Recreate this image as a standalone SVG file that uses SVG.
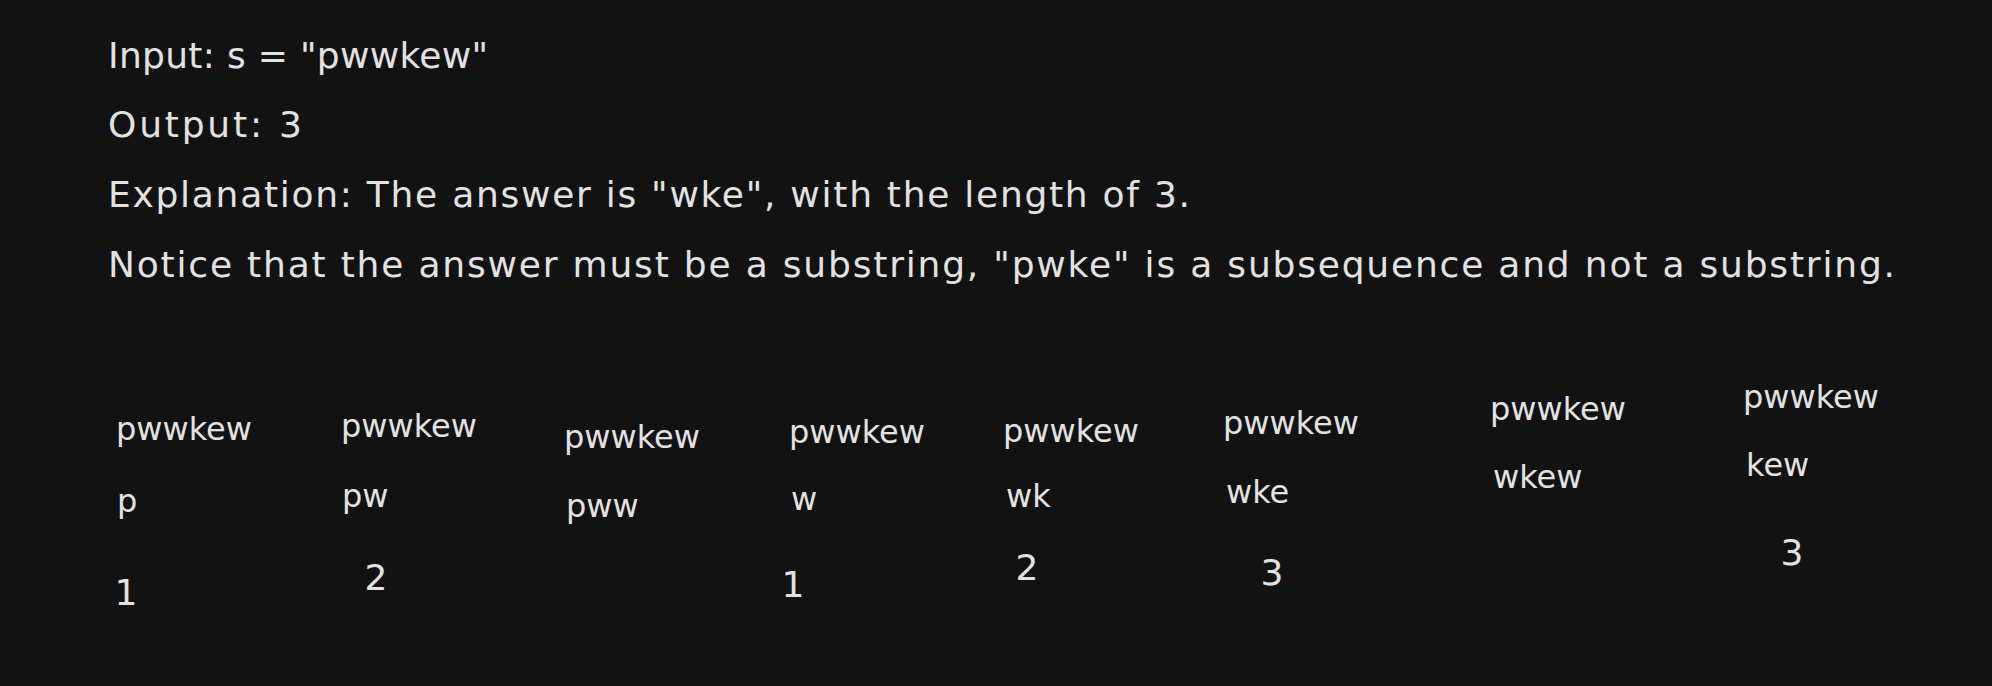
<svg xmlns="http://www.w3.org/2000/svg" width="1992" height="686" viewBox="0 0 1992 686">
<style>
  text { font-family: "DejaVu Sans", "Liberation Sans", sans-serif; fill: #e2e2e2; font-size: 32px; }
  .head { font-size: 36px; }
  .num { text-anchor: middle; font-size: 36px; }
</style>
<rect x="0" y="0" width="1992" height="686" fill="#121212"/>
<g id="problem">
  <text class="head" x="108" y="68" textLength="380">Input: s = "pwwkew"</text>
  <text class="head" x="108" y="137" textLength="194">Output: 3</text>
  <text class="head" x="108" y="207" textLength="1082">Explanation: The answer is "wke", with the length of 3.</text>
  <text class="head" x="108" y="277" textLength="1787">Notice that the answer must be a substring, "pwke" is a subsequence and not a substring.</text>
</g>
<g id="step1">
  <text x="116" y="440">pwwkew</text>
  <text x="117" y="512">p</text>
  <text class="num" x="126" y="605">1</text>
</g>
<g id="step2">
  <text x="341" y="437">pwwkew</text>
  <text x="342" y="507">pw</text>
  <text class="num" x="376" y="590">2</text>
</g>
<g id="step3">
  <text x="564" y="448">pwwkew</text>
  <text x="566" y="517">pww</text>
</g>
<g id="step4">
  <text x="789" y="443">pwwkew</text>
  <text x="791" y="510">w</text>
  <text class="num" x="793" y="597">1</text>
</g>
<g id="step5">
  <text x="1003" y="442">pwwkew</text>
  <text x="1006" y="507">wk</text>
  <text class="num" x="1027" y="580">2</text>
</g>
<g id="step6">
  <text x="1223" y="434">pwwkew</text>
  <text x="1226" y="503">wke</text>
  <text class="num" x="1272" y="585">3</text>
</g>
<g id="step7">
  <text x="1490" y="420">pwwkew</text>
  <text x="1493" y="488">wkew</text>
</g>
<g id="step8">
  <text x="1743" y="408">pwwkew</text>
  <text x="1746" y="476">kew</text>
  <text class="num" x="1792" y="565">3</text>
</g>
</svg>
